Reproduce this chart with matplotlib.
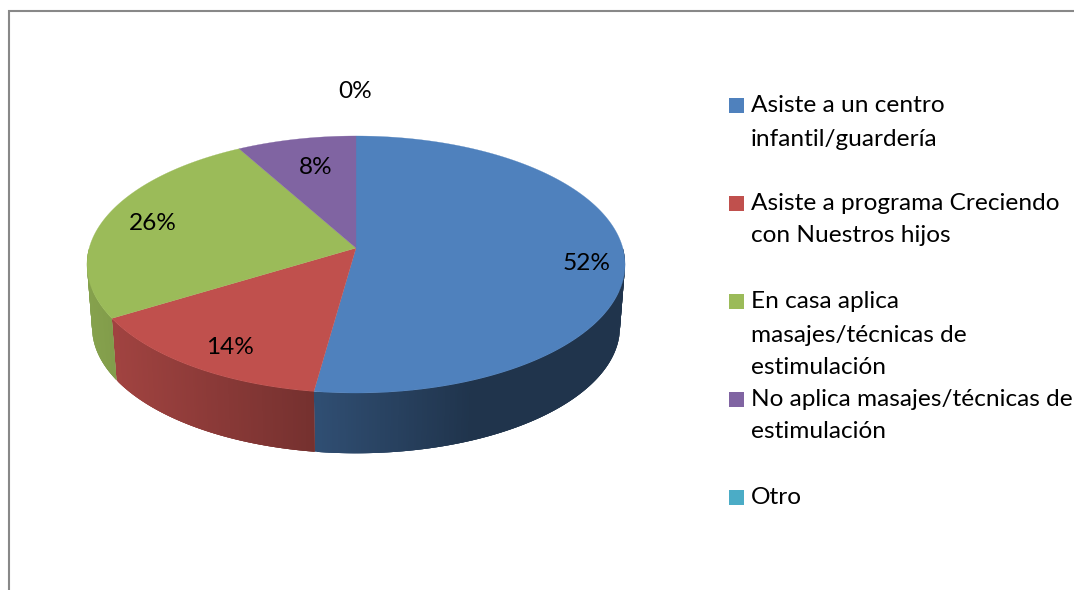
import numpy as np
import matplotlib
matplotlib.use("Agg")
import matplotlib.pyplot as plt
from matplotlib.colors import to_rgb
from matplotlib.patches import Polygon, Rectangle

categories = ["Asiste a un centro\ninfantil/guardería",
              "Asiste a programa Creciendo\ncon Nuestros hijos",
              "En casa aplica\nmasajes/técnicas de\nestimulación",
              "No aplica masajes/técnicas de\nestimulación",
              "Otro"]
values = [52.2, 14.1, 25.6, 8.1, 0]
value_labels = ["52%", "14%", "26%", "8%", "0%"]
colors = ["#4F81BD", "#C0504D", "#9BBB59", "#8064A2", "#4BACC6"]

# Geometry of the perspective disc (pixel space of the figure)
CX, CY = 356.0, 248.0
A, B, K = 266.8, 126.4, 0.1284
DEPTH, BASE_SCALE = 63.0, 0.981
label_pos = [(587, 263), (230, 347), (153, 224), (316, 168), (355, 91)]
legend_x_swatch, legend_x_text = 729, 751
legend_line_y = [[105, 138], [203, 235], [301, 334, 366], [399, 431], [497]]
FONT = "Lato"
FS = 17.6


def project(theta, base=False):
    u, v = np.sin(theta), np.cos(theta)
    d = 1 + K * v
    x, y = A * u / d, -B * v / d
    if base:
        return CX + x * BASE_SCALE, CY + DEPTH + y * BASE_SCALE
    return CX + x, CY + y


def shade(x):
    return np.interp(x, [90, 117, 316, 470, 625], [0.86, 0.83, 0.60, 0.40, 0.40])


fig = plt.figure(figsize=(10.74, 5.90), dpi=100)
ax = fig.add_axes([0, 0, 1, 1])
ax.set_xlim(0, 1074)
ax.set_ylim(590, 0)
ax.axis("off")

# Frame (top and left only are visible)
ax.plot([9, 9, 1074], [590, 11, 11], color="#888888", lw=1.5, solid_joinstyle="miter")

total = sum(values)
edges = 2 * np.pi * np.cumsum([0] + values) / total

# Side wall: overlapping strips over the visible front half of each slice
for i, val in enumerate(values):
    lo, hi = max(edges[i], np.pi / 2), min(edges[i + 1], 3 * np.pi / 2)
    if val == 0 or hi <= lo:
        continue
    th = np.linspace(lo, hi, max(3, int(np.degrees(hi - lo) * 2)) + 1)
    for j in range(len(th) - 1):
        seg = np.linspace(th[max(j - 2, 0)], th[j + 1], 4)
        xt, yt = project(seg)
        xb, yb = project(seg[::-1], base=True)
        col = np.array(to_rgb(colors[i])) * shade(project((th[j] + th[j + 1]) / 2)[0])
        pts = list(zip(xt, yt)) + list(zip(xb, yb))
        ax.add_patch(Polygon(pts, closed=True, facecolor=col, edgecolor="none", lw=0, zorder=2))

# Top surface
for i, val in enumerate(values):
    if val == 0:
        continue
    th = np.linspace(edges[i], edges[i + 1], max(2, int(val * 6)))
    xs, ys = project(th)
    pts = [(CX, CY)] + list(zip(xs, ys))
    ax.add_patch(Polygon(pts, closed=True, facecolor=colors[i], edgecolor=colors[i],
                         lw=0.2, zorder=3))

# Data labels
for lab, (x, y) in zip(value_labels, label_pos):
    ax.text(x, y, lab, ha="center", va="center", fontsize=FS, family=FONT,
            color="black", zorder=5)

# Legend
for cat, col, ys in zip(categories, colors, legend_line_y):
    ax.add_patch(Rectangle((legend_x_swatch, ys[0] - 7), 15, 15, facecolor=col,
                           edgecolor="none", zorder=4))
    for line, y in zip(cat.split("\n"), ys):
        ax.text(legend_x_text, y + 1, line, ha="left", va="center", fontsize=FS,
                family=FONT, color="black", zorder=5)

fig.savefig("out.png", dpi=100)
